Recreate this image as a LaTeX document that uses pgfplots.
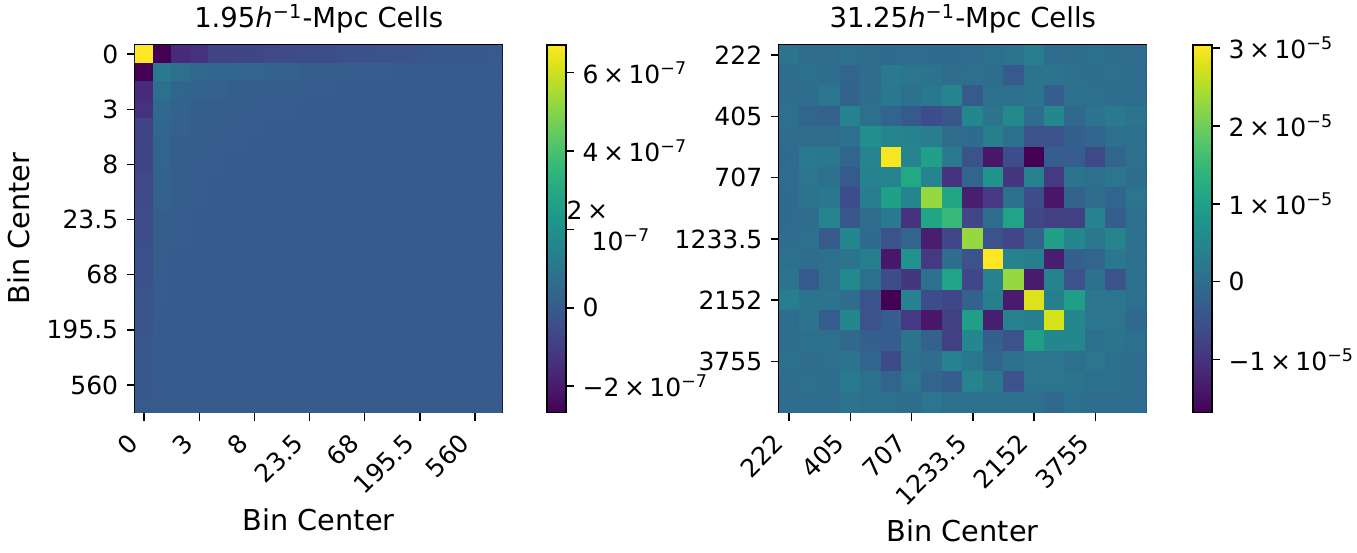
\documentclass[border=0pt]{standalone}
\usepackage{fontspec}
\setmainfont{DejaVu Sans}
\usepackage{pgfplots}
\pgfplotsset{compat=1.18}

\newcommand{\tp}[2]{#1\hspace{0.18em}×\hspace{0.18em}10\textsuperscript{#2}}

\pgfplotsset{
  heat/.style={
    scale only axis,
    width=147pt, height=147pt,
    anchor=north west,
    enlargelimits=false,
    y dir=reverse,
    colormap/viridis,
    tick pos=left,
    tick align=outside,
    major tick length=3.2pt,
    axis line style={line width=0.6pt},
    every tick/.style={black, line width=0.6pt},
    /pgf/number format/assume math mode=true,
    tick label style={font=\fontsize{10}{12}\selectfont},
    xticklabel style={xshift=-7pt, yshift=-3pt, rotate=45, anchor=north east, inner sep=1pt},
    label style={font=\fontsize{11.5}{13}\selectfont},
    title style={font=\fontsize{11}{13}\selectfont, yshift=-5pt},
    colorbar,
  },
  cbar/.style={
    at={(parent axis.north east)}, anchor=north west,
    xshift=#1, width=7.6pt,
    tick align=outside, major tick length=3.2pt,
    ytick pos=right, yticklabel pos=right,
    axis line style={line width=0.6pt},
    yticklabel style={font=\fontsize{10}{12}\selectfont},
  },
}

\begin{document}
\begin{tikzpicture}
\useasboundingbox (0,0) rectangle (542.8pt,-220.8pt);

% left: 1.95 Mpc cells, 20 bins, values in units of 1e-7
\begin{axis}[heat,
  at={(54pt,-18pt)},
  xmin=-0.5, xmax=19.5, ymin=-0.5, ymax=19.5,
  xtick={0,3,6,9,12,15,18}, ytick={0,3,6,9,12,15,18},
  xticklabels={0,3,8,23.5,68,195.5,560},
  yticklabels={0,3,8,23.5,68,195.5,560},
  xlabel={Bin Center}, ylabel={Bin Center},
  title={1.95{\itshape h}\textsuperscript{−1}-Mpc Cells},
  point meta min=-2.67, point meta max=6.7,
  colorbar style={cbar=9.2pt,
    ytick={-2,0,2,4,6},
    yticklabels={\tp{−2}{−7}, 0, {\hspace*{-6.4pt}\begin{tabular}{@{}l@{}}2\hspace{0.18em}×\\\hspace*{1.0em}10\textsuperscript{−7}\end{tabular}}, \tp{4}{−7}, \tp{6}{−7}},
  },
]
\addplot[matrix plot*, mesh/cols=20, point meta=explicit]
table[row sep=\\, x expr={mod(\coordindex,20)}, y expr={floor((\coordindex+0.5)/20)}, meta=c] {
c\\
6.7\\ -2.67\\ -1.55\\ -1.35\\ -0.8\\ -0.75\\ -0.7\\ -0.65\\ -0.6\\ -0.5\\ -0.45\\ -0.4\\ -0.35\\ -0.3\\ -0.25\\ -0.2\\ -0.15\\ -0.1\\ -0.1\\ -0.05\\
-2.67\\ 1.1\\ 0.75\\ 0.5\\ 0.4\\ 0.35\\ 0.3\\ 0.25\\ 0.2\\ 0.15\\ 0.1\\ 0.1\\ 0.05\\ 0.05\\ 0\\ 0\\ 0\\ 0\\ 0\\ 0\\
-1.55\\ 0.75\\ 0.35\\ 0.25\\ 0.2\\ 0.15\\ 0.15\\ 0.1\\ 0.1\\ 0.05\\ 0.05\\ 0\\ 0\\ 0\\ 0\\ 0\\ 0\\ 0\\ 0\\ 0\\
-1.35\\ 0.5\\ 0.25\\ 0.15\\ 0.1\\ 0.1\\ 0.05\\ 0.05\\ 0.05\\ 0\\ 0\\ 0\\ 0\\ 0\\ 0\\ 0\\ 0\\ 0\\ 0\\ 0\\
-0.8\\ 0.4\\ 0.2\\ 0.1\\ 0.1\\ 0.05\\ 0.05\\ 0\\ 0\\ 0\\ 0\\ 0\\ 0\\ 0\\ 0\\ 0\\ 0\\ 0\\ 0\\ 0\\
-0.75\\ 0.35\\ 0.15\\ 0.1\\ 0.05\\ 0.05\\ 0\\ 0\\ 0\\ 0\\ 0\\ 0\\ 0\\ 0\\ 0\\ 0\\ 0\\ 0\\ 0\\ 0\\
-0.7\\ 0.3\\ 0.15\\ 0.05\\ 0.05\\ 0\\ 0\\ 0\\ 0\\ 0\\ 0\\ 0\\ 0\\ 0\\ 0\\ 0\\ 0\\ 0\\ 0\\ 0\\
-0.65\\ 0.25\\ 0.1\\ 0.05\\ 0\\ 0\\ 0\\ 0\\ 0\\ 0\\ 0\\ 0\\ 0\\ 0\\ 0\\ 0\\ 0\\ 0\\ 0\\ 0\\
-0.6\\ 0.2\\ 0.1\\ 0.05\\ 0\\ 0\\ 0\\ 0\\ 0\\ 0\\ 0\\ 0\\ 0\\ 0\\ 0\\ 0\\ 0\\ 0\\ 0\\ 0\\
-0.5\\ 0.15\\ 0.05\\ 0\\ 0\\ 0\\ 0\\ 0\\ 0\\ 0\\ 0\\ 0\\ 0\\ 0\\ 0\\ 0\\ 0\\ 0\\ 0\\ 0\\
-0.45\\ 0.1\\ 0.05\\ 0\\ 0\\ 0\\ 0\\ 0\\ 0\\ 0\\ 0\\ 0\\ 0\\ 0\\ 0\\ 0\\ 0\\ 0\\ 0\\ 0\\
-0.4\\ 0.1\\ 0\\ 0\\ 0\\ 0\\ 0\\ 0\\ 0\\ 0\\ 0\\ 0\\ 0\\ 0\\ 0\\ 0\\ 0\\ 0\\ 0\\ 0\\
-0.35\\ 0.05\\ 0\\ 0\\ 0\\ 0\\ 0\\ 0\\ 0\\ 0\\ 0\\ 0\\ 0\\ 0\\ 0\\ 0\\ 0\\ 0\\ 0\\ 0\\
-0.3\\ 0.05\\ 0\\ 0\\ 0\\ 0\\ 0\\ 0\\ 0\\ 0\\ 0\\ 0\\ 0\\ 0\\ 0\\ 0\\ 0\\ 0\\ 0\\ 0\\
-0.25\\ 0\\ 0\\ 0\\ 0\\ 0\\ 0\\ 0\\ 0\\ 0\\ 0\\ 0\\ 0\\ 0\\ 0\\ 0\\ 0\\ 0\\ 0\\ 0\\
-0.2\\ 0\\ 0\\ 0\\ 0\\ 0\\ 0\\ 0\\ 0\\ 0\\ 0\\ 0\\ 0\\ 0\\ 0\\ 0\\ 0\\ 0\\ 0\\ 0\\
-0.15\\ 0\\ 0\\ 0\\ 0\\ 0\\ 0\\ 0\\ 0\\ 0\\ 0\\ 0\\ 0\\ 0\\ 0\\ 0\\ 0\\ 0\\ 0\\ 0\\
-0.1\\ 0\\ 0\\ 0\\ 0\\ 0\\ 0\\ 0\\ 0\\ 0\\ 0\\ 0\\ 0\\ 0\\ 0\\ 0\\ 0\\ 0\\ 0\\ 0\\
-0.1\\ 0\\ 0\\ 0\\ 0\\ 0\\ 0\\ 0\\ 0\\ 0\\ 0\\ 0\\ 0\\ 0\\ 0\\ 0\\ 0\\ 0\\ 0\\ 0\\
-0.05\\ 0\\ 0\\ 0\\ 0\\ 0\\ 0\\ 0\\ 0\\ 0\\ 0\\ 0\\ 0\\ 0\\ 0\\ 0\\ 0\\ 0\\ 0\\ 0\\
};
\end{axis}

% right: 31.25 Mpc cells, 18 bins, values in units of 1e-5
\begin{axis}[heat,
  at={(311.6pt,-18pt)},
  xmin=-0.5, xmax=17.5, ymin=-0.5, ymax=17.5,
  xtick={0,3,6,9,12,15}, ytick={0,3,6,9,12,15},
  xticklabels={222,405,707,1233.5,2152,3755},
  yticklabels={222,405,707,1233.5,2152,3755},
  xlabel={Bin Center},
  title={31.25{\itshape h}\textsuperscript{−1}-Mpc Cells},
  point meta min=-1.68, point meta max=3.04,
  colorbar style={cbar=10pt,
    ytick={-1,0,1,2,3},
    yticklabels={\tp{−1}{−5}, 0, \tp{1}{−5}, \tp{2}{−5}, \tp{3}{−5}},
  },
]
\addplot[matrix plot*, mesh/cols=18, point meta=explicit]
table[row sep=\\, x expr={mod(\coordindex,18)}, y expr={floor((\coordindex+0.5)/18)}, meta=c] {
c\\
0.1\\ 0.0\\ 0.0\\ 0.05\\ 0.0\\ -0.05\\ 0.0\\ -0.05\\ -0.05\\ 0.0\\ 0.05\\ 0.1\\ 0.3\\ 0.0\\ 0.0\\ 0.05\\ 0.0\\ 0.0\\
0.0\\ 0.05\\ 0.0\\ -0.15\\ 0.0\\ 0.25\\ 0.15\\ 0.1\\ 0.0\\ 0.05\\ 0.0\\ -0.35\\ 0.1\\ 0.1\\ 0.05\\ 0.0\\ 0.05\\ 0.0\\
0.0\\ 0.0\\ 0.15\\ -0.2\\ 0.0\\ 0.2\\ 0.05\\ 0.2\\ 0.45\\ -0.35\\ 0.05\\ 0.05\\ 0.1\\ -0.3\\ 0.05\\ 0.05\\ 0.0\\ 0.0\\
0.05\\ -0.15\\ -0.2\\ 0.4\\ 0.05\\ -0.15\\ -0.35\\ -0.6\\ -0.4\\ 0.5\\ 0.1\\ 0.55\\ 0.0\\ 0.5\\ -0.1\\ 0.1\\ 0.25\\ 0.1\\
0.0\\ 0.0\\ 0.0\\ 0.05\\ 0.65\\ 0.45\\ 0.4\\ 0.3\\ 0.0\\ -0.05\\ 0.35\\ 0.05\\ -0.5\\ -0.5\\ -0.25\\ -0.15\\ 0.05\\ 0.05\\
-0.05\\ 0.25\\ 0.2\\ -0.15\\ 0.45\\ 3.0\\ 0.45\\ 1.0\\ 0.25\\ -0.5\\ -1.4\\ -0.6\\ -1.68\\ -0.3\\ -0.3\\ -0.65\\ -0.15\\ 0.05\\
0.0\\ 0.15\\ 0.05\\ -0.35\\ 0.4\\ 0.45\\ 1.15\\ 0.45\\ -1.0\\ -0.15\\ 0.75\\ -0.95\\ 0.4\\ -0.9\\ 0.1\\ 0.05\\ 0.15\\ 0.0\\
-0.05\\ 0.1\\ 0.2\\ -0.6\\ 0.3\\ 1.0\\ 0.45\\ 2.3\\ 1.1\\ -1.3\\ -0.9\\ 0.05\\ -0.6\\ -1.4\\ -0.2\\ 0.0\\ -0.15\\ 0.15\\
-0.05\\ 0.0\\ 0.45\\ -0.4\\ 0.0\\ 0.25\\ -1.0\\ 1.1\\ 1.5\\ -0.7\\ 0.0\\ 1.05\\ -0.7\\ -0.8\\ -0.8\\ 0.4\\ -0.3\\ 0.05\\
0.0\\ 0.05\\ -0.35\\ 0.5\\ -0.05\\ -0.5\\ -0.15\\ -1.3\\ -0.7\\ 2.3\\ -0.5\\ -0.7\\ -0.2\\ 0.95\\ 0.5\\ 0.2\\ 0.45\\ 0.05\\
0.05\\ 0.0\\ 0.05\\ 0.1\\ 0.35\\ -1.4\\ 0.75\\ -0.9\\ 0.0\\ -0.5\\ 3.04\\ 0.4\\ 0.35\\ -1.3\\ -0.25\\ -0.15\\ 0.2\\ 0.05\\
0.1\\ -0.35\\ 0.05\\ 0.55\\ 0.05\\ -0.6\\ -0.95\\ 0.05\\ 1.05\\ -0.7\\ 0.4\\ 2.3\\ -1.35\\ 0.4\\ -0.5\\ 0.05\\ -0.5\\ 0.05\\
0.3\\ 0.1\\ 0.1\\ 0.0\\ -0.5\\ -1.68\\ 0.4\\ -0.6\\ -0.7\\ -0.2\\ 0.35\\ -1.35\\ 2.8\\ 0.35\\ 0.95\\ 0.15\\ 0.15\\ 0.05\\
0.0\\ 0.1\\ -0.3\\ 0.5\\ -0.5\\ -0.3\\ -0.9\\ -1.4\\ -0.8\\ 0.95\\ -1.3\\ 0.4\\ 0.35\\ 2.75\\ 0.5\\ 0.15\\ 0.15\\ -0.1\\
0.0\\ 0.05\\ 0.05\\ -0.1\\ -0.25\\ -0.3\\ 0.1\\ -0.2\\ -0.8\\ 0.5\\ -0.25\\ -0.5\\ 0.95\\ 0.5\\ 0.5\\ 0.05\\ 0.1\\ 0.05\\
0.05\\ 0.0\\ 0.05\\ 0.1\\ -0.15\\ -0.65\\ 0.05\\ 0.0\\ 0.4\\ 0.2\\ -0.15\\ 0.05\\ 0.15\\ 0.15\\ 0.05\\ 0.15\\ 0.05\\ 0.0\\
0.0\\ 0.05\\ 0.0\\ 0.25\\ 0.05\\ -0.15\\ 0.15\\ -0.15\\ -0.3\\ 0.45\\ 0.2\\ -0.5\\ 0.15\\ 0.15\\ 0.1\\ 0.05\\ 0.05\\ 0.0\\
0.0\\ 0.0\\ 0.0\\ 0.1\\ 0.05\\ 0.05\\ 0.0\\ 0.15\\ 0.05\\ 0.05\\ 0.05\\ 0.05\\ 0.05\\ -0.1\\ 0.05\\ 0.0\\ 0.0\\ 0.0\\
};
\end{axis}
\end{tikzpicture}
\end{document}
